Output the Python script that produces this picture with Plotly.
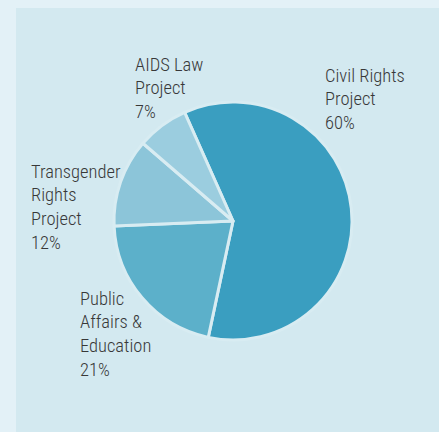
import plotly.graph_objects as go

# Data
labels = ["Civil Rights Project", "Public Affairs & Education", "Transgender Rights Project", "AIDS Law Project"]
label_lines = [["Civil Rights", "Project"], ["Public", "Affairs &", "Education"],
               ["Transgender", "Rights", "Project"], ["AIDS Law", "Project"]]
values = [60, 21, 12, 7]
colors = ["#3a9ec0", "#5cb0ca", "#8cc5d9", "#9bcddf"]

W, H = 439, 432
# label block positions (pixels: left edge, baseline of first line)
label_pos = [(325, 82), (80, 305), (31, 178), (135, 71)]
LINE_GAP = 23.7
FONT = "Roboto Condensed, Roboto, sans-serif"
FSIZE = 18.5

fig = go.Figure()
fig.add_trace(go.Pie(
    labels=labels,
    values=values,
    sort=False,
    direction="clockwise",
    rotation=-24,
    textinfo="none",
    hoverinfo="label+percent",
    marker=dict(colors=colors, line=dict(color="#d8ecf2", width=3)),
    domain=dict(x=[114 / W, 352 / W], y=[(H - 340) / H, (H - 102) / H]),
    showlegend=False,
))

annotations = []
for lines, val, (px, py) in zip(label_lines, values, label_pos):
    for i, line in enumerate(lines + [f"{val}%"]):
        base = py + i * LINE_GAP
        annotations.append(dict(
            x=(px - 2) / W, y=1 - (base - 6.3) / H, xref="paper", yref="paper",
            xanchor="left", yanchor="middle", align="left",
            text=line, showarrow=False,
            font=dict(family=FONT, size=FSIZE, color="#383838", weight=300),
        ))

fig.update_layout(
    width=W, height=H,
    margin=dict(l=0, r=0, t=0, b=0),
    paper_bgcolor="#e3f1f7",
    plot_bgcolor="#e3f1f7",
    shapes=[dict(type="rect", xref="paper", yref="paper", x0=16 / W, x1=1.01, y0=-0.01, y1=1 - 8 / H,
                 fillcolor="#d3e9f0", line=dict(width=0), layer="below")],
    annotations=annotations,
)

fig.write_html("out.html")
